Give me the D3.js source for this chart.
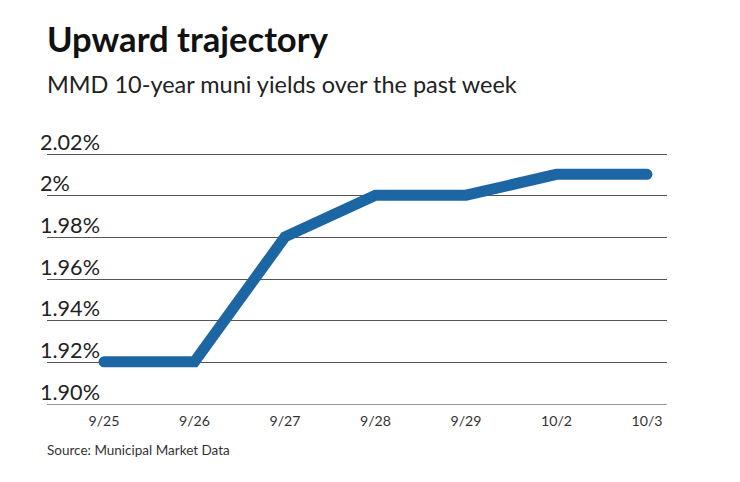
<!DOCTYPE html>
<html>
<head>
<meta charset="utf-8">
<script src="https://cdn.jsdelivr.net/npm/d3@7"></script>
<style>
  html, body { margin: 0; padding: 0; background: #fff; }
  svg { display: block; }
  text { font-family: "Lato", "Open Sans", sans-serif; }
</style>
</head>
<body>
<svg id="chart" width="740" height="482"></svg>
<script>
const categories = ["9/25", "9/26", "9/27", "9/28", "9/29", "10/2", "10/3"];
const yields = [1.92, 1.92, 1.98, 2.00, 2.00, 2.01, 2.01];
const yTicks = [1.90, 1.92, 1.94, 1.96, 1.98, 2.00, 2.02];
const yTickLabels = ["1.90%", "1.92%", "1.94%", "1.96%", "1.98%", "2%", "2.02%"];
const title = "Upward trajectory";
const subtitle = "MMD 10-year muni yields over the past week";
const source = "Source: Municipal Market Data";

const svg = d3.select("#chart");

function fitText(sel, targetWidth, startSize) {
  sel.attr("font-size", startSize);
  const w = sel.node().getComputedTextLength();
  sel.attr("font-size", startSize * targetWidth / w);
}

const t = svg.append("text").attr("x", 47).attr("y", 52)
  .attr("font-weight", "bold").attr("fill", "#111").text(title);
fitText(t, 281, 32);

const st = svg.append("text").attr("x", 47).attr("y", 93)
  .attr("fill", "#222").text(subtitle);
fitText(st, 470, 22);

const x = d3.scalePoint().domain(categories).range([104, 647]);
const y = d3.scaleLinear().domain([1.90, 2.02]).range([403.5, 153.5]);

// gridlines
svg.append("g").selectAll("line").data(yTicks).join("line")
  .attr("x1", 47).attr("x2", 667)
  .attr("y1", d => Math.round(y(d)) + 0.5).attr("y2", d => Math.round(y(d)) + 0.5)
  .attr("stroke", (d, i) => i === 0 ? "#9a9a9a" : "#555")
  .attr("stroke-width", 1.2);

// y labels
const yl = svg.append("g").selectAll("text").data(yTicks).join("text")
  .attr("x", 40).attr("y", d => Math.round(y(d)) - 4)
  .attr("fill", "#222").attr("font-size", 19)
  .text((d, i) => yTickLabels[i]);
// fit "2.02%" to ~60px
const ref = yl.filter((d, i) => i === 6).node().getComputedTextLength();
yl.attr("font-size", 19 * 60 / ref);

// x axis labels
const xl = svg.append("g").selectAll("text").data(categories).join("text")
  .attr("x", d => x(d)).attr("y", 426)
  .attr("text-anchor", "middle").attr("fill", "#333").attr("font-size", 15)
  .text(d => d);
const xr = xl.filter((d, i) => i === 0).node().getComputedTextLength();
xl.attr("font-size", 15 * 31 / xr);

// line
const line = d3.line().x((d, i) => x(categories[i])).y(d => y(d));
svg.append("path").datum(yields)
  .attr("d", line)
  .attr("fill", "none")
  .attr("stroke", "#1c66a3")
  .attr("stroke-width", 11)
  .attr("stroke-linecap", "round")
  .attr("stroke-linejoin", "miter");

const so = svg.append("text").attr("x", 47).attr("y", 455)
  .attr("fill", "#333").text(source);
fitText(so, 183, 12);
</script>
</body>
</html>
